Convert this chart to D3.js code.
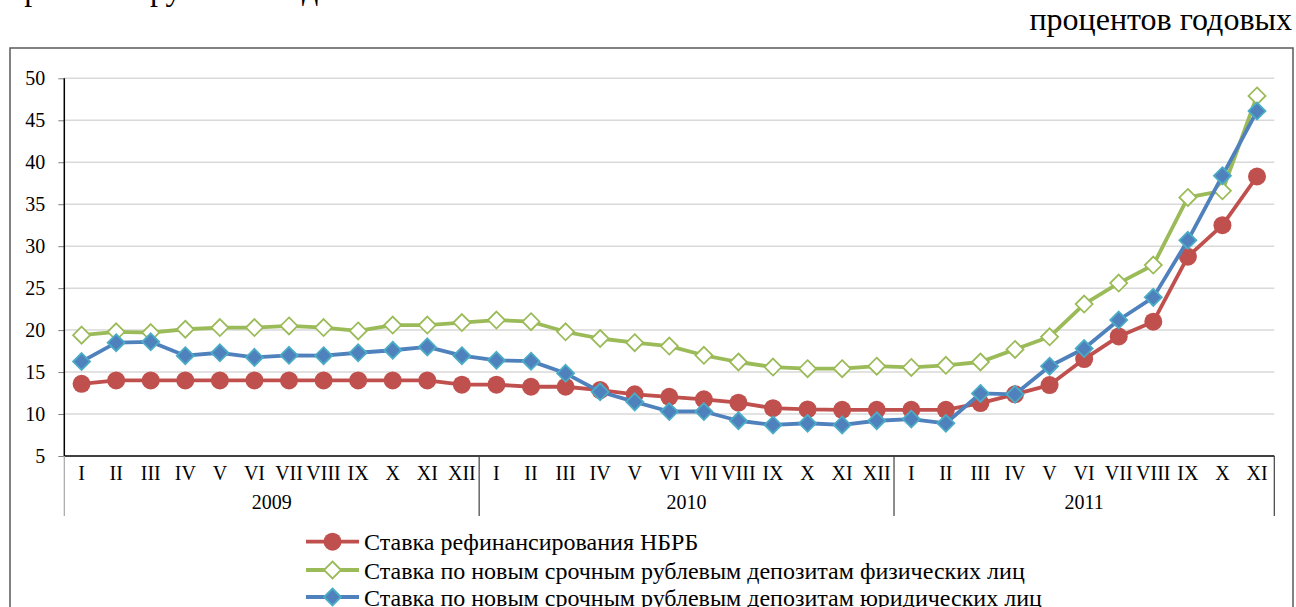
<!DOCTYPE html>
<html>
<head>
<meta charset="utf-8">
<script src="https://cdn.jsdelivr.net/npm/d3@7"></script>
<style>
  body { margin: 0; background: #fff; }
  svg { display: block; }
  text { font-family: "Liberation Serif", "Times New Roman", serif; fill: #000; }
</style>
</head>
<body>
<div id="chart"></div>
<script>
// monthly categories, grouped by year
var years = ["2009", "2010", "2011"];
var yearMonths = [12, 12, 11];
var monthNames = ["I", "II", "III", "IV", "V", "VI", "VII", "VIII", "IX", "X", "XI", "XII"];
var yTicks = [5, 10, 15, 20, 25, 30, 35, 40, 45, 50];

var seriesNames = [
  "Ставка рефинансирования НБРБ",
  "Ставка по новым срочным рублевым депозитам физических лиц",
  "Ставка по новым срочным рублевым депозитам юридических лиц"
];

var refRate = [13.6, 14, 14, 14, 14, 14, 14, 14, 14, 14, 14, 13.5,
  13.5, 13.25, 13.25, 12.85, 12.35, 12.05, 11.75, 11.35, 10.7, 10.55, 10.5, 10.5,
  10.5, 10.5, 11.3, 12.35, 13.45, 16.55, 19.25, 21.0, 28.75, 32.5, 38.3];

var physRate = [19.4, 19.8, 19.7, 20.1, 20.3, 20.3, 20.5, 20.3, 19.9, 20.6, 20.6, 20.9,
  21.2, 21.0, 19.8, 19.0, 18.5, 18.1, 17.0, 16.2, 15.6, 15.4, 15.4, 15.7,
  15.55, 15.8, 16.2, 17.7, 19.2, 23.1, 25.6, 27.75, 35.8, 36.6, 47.9];

var legalRate = [16.25, 18.5, 18.6, 16.95, 17.3, 16.75, 17.0, 16.95, 17.3, 17.6, 18.0, 16.95,
  16.4, 16.3, 14.85, 12.65, 11.45, 10.3, 10.3, 9.2, 8.7, 8.9, 8.7, 9.2,
  9.4, 8.9, 12.45, 12.35, 15.7, 17.8, 21.2, 23.9, 30.7, 38.4, 46.1];

var svgWidth = 1296;
var svgHeight = 607;

var plot = { left: 64.3, right: 1274.3, top: 78.3, bottom: 456 };

// build month list from the year groups
var categories = [];
var groups = [];
years.forEach(function(yr, i) {
  var start = categories.length;
  for (var m = 0; m < yearMonths[i]; m++) {
    categories.push({ year: yr, month: monthNames[m], idx: categories.length });
  }
  groups.push({ year: yr, start: start, end: categories.length });
});

var svg = d3.select("#chart")
  .append("svg")
  .attr("width", svgWidth)
  .attr("height", svgHeight);

// cut-off line of the surrounding document text (only descenders show)
var topLine = svg.append("text")
  .attr("y", 0)
  .attr("font-size", 32);
topLine.append("tspan").attr("x", 10).text("срочным");
topLine.append("tspan").attr("x", 150).text("рублевым");
topLine.append("tspan").attr("x", 302).text("депозитам");

svg.append("text")
  .attr("x", 1292)
  .attr("y", 30)
  .attr("text-anchor", "end")
  .attr("font-size", 32)
  .text("процентов годовых");

// outer chart frame
svg.append("rect")
  .attr("x", 10)
  .attr("y", 48)
  .attr("width", 1283)
  .attr("height", 600)
  .attr("fill", "none")
  .attr("stroke", "#595959")
  .attr("stroke-width", 1.5);

var xScale = d3.scaleBand()
  .domain(d3.range(categories.length))
  .range([plot.left, plot.right]);

var yScale = d3.scaleLinear()
  .domain([5, 50])
  .range([plot.bottom, plot.top]);

var xc = function(i) { return xScale(i) + xScale.bandwidth() / 2; };

// gridlines
svg.append("g")
  .selectAll("line")
  .data(yTicks.slice(1))
  .enter()
  .append("line")
  .attr("x1", plot.left)
  .attr("x2", plot.right)
  .attr("y1", d => yScale(d))
  .attr("y2", d => yScale(d))
  .attr("stroke", "#d9d9d9")
  .attr("stroke-width", 1.5);

// y axis
var leftAxis = d3.axisLeft(yScale)
  .tickValues(yTicks)
  .tickSize(6)
  .tickPadding(13);

var yAxisG = svg.append("g")
  .attr("transform", `translate(${plot.left}, 0)`)
  .call(leftAxis);
yAxisG.select(".domain").remove();
yAxisG.selectAll(".tick line").attr("stroke", "#808080");
yAxisG.selectAll(".tick text")
  .attr("font-family", "Liberation Serif")
  .attr("font-size", 20)
  .attr("fill", "#000");

svg.append("line")
  .attr("x1", plot.left).attr("x2", plot.left)
  .attr("y1", plot.top).attr("y2", plot.bottom)
  .attr("stroke", "#000").attr("stroke-width", 1.5);

// category axis line
svg.append("line")
  .attr("x1", plot.left).attr("x2", plot.right)
  .attr("y1", plot.bottom).attr("y2", plot.bottom)
  .attr("stroke", "#000").attr("stroke-width", 1.5);

// month labels
svg.append("g")
  .selectAll("text")
  .data(categories)
  .enter()
  .append("text")
  .attr("x", d => xc(d.idx))
  .attr("y", 473)
  .attr("dy", "0.35em")
  .attr("text-anchor", "middle")
  .attr("font-size", 20)
  .text(d => d.month);

// year group separators and labels
var sepX = [plot.left].concat(groups.map(g => xScale.step() * g.end + plot.left));
svg.append("g")
  .selectAll("line")
  .data(sepX)
  .enter()
  .append("line")
  .attr("x1", d => d).attr("x2", d => d)
  .attr("y1", plot.bottom).attr("y2", 516)
  .attr("stroke", (d, i) => i === 0 ? "#a6a6a6" : "#404040")
  .attr("stroke-width", 1.2);

svg.append("g")
  .selectAll("text")
  .data(groups)
  .enter()
  .append("text")
  .attr("x", d => (xc(d.start) + xc(d.end - 1)) / 2)
  .attr("y", 502)
  .attr("dy", "0.35em")
  .attr("text-anchor", "middle")
  .attr("font-size", 20)
  .text(d => d.year);

var line = d3.line()
  .x((d, i) => xc(i))
  .y(d => yScale(d));

var diamond = function(s) {
  return `M0,${-s}L${s},0L0,${s}L${-s},0Z`;
};

var series = [
  { name: seriesNames[0], values: refRate, color: "#c0504d", marker: "circle" },
  { name: seriesNames[1], values: physRate, color: "#9bbb59", marker: "open" },
  { name: seriesNames[2], values: legalRate, color: "#4f81bd", marker: "diamond" }
];

function drawMarker(g, s) {
  if (s.marker === "circle") {
    g.append("circle").attr("r", 9).attr("fill", s.color);
  } else if (s.marker === "open") {
    g.append("path").attr("d", diamond(8.5))
      .attr("fill", "#fff").attr("stroke", s.color).attr("stroke-width", 1.8);
  } else {
    g.append("path").attr("d", diamond(8.5))
      .attr("fill", s.color).attr("stroke", "#4bacc6").attr("stroke-width", 1.8);
  }
}

series.forEach(function(s) {
  var g = svg.append("g");
  g.append("path")
    .datum(s.values)
    .attr("d", line)
    .attr("fill", "none")
    .attr("stroke", s.color)
    .attr("stroke-width", 3.8)
    .attr("stroke-linejoin", "round");
  g.selectAll("g.pt")
    .data(s.values)
    .enter()
    .append("g")
    .attr("class", "pt")
    .attr("transform", (d, i) => `translate(${xc(i)}, ${yScale(d)})`)
    .each(function() { drawMarker(d3.select(this), s); });
});

// legend
var legendRows = [541.7, 570, 597];
var legendTexts = [];
series.forEach(function(s, i) {
  var lg = svg.append("g").attr("transform", `translate(306, ${legendRows[i]})`);
  lg.append("line")
    .attr("x1", 0).attr("x2", 53)
    .attr("stroke", s.color).attr("stroke-width", 3.8);
  var mk = lg.append("g").attr("transform", "translate(26.5, 0)");
  drawMarker(mk, s);
  legendTexts.push(lg.append("text")
    .attr("x", 58)
    .attr("y", 8.5)
    .attr("font-size", 20)
    .text(s.name));
});

// size legend font so the longest row spans the same width as the source
var longest = legendTexts[2].node().getComputedTextLength();
var legendFont = 20 * 678 / longest;
legendTexts.forEach(function(t) { t.attr("font-size", legendFont); });
</script>
</body>
</html>
